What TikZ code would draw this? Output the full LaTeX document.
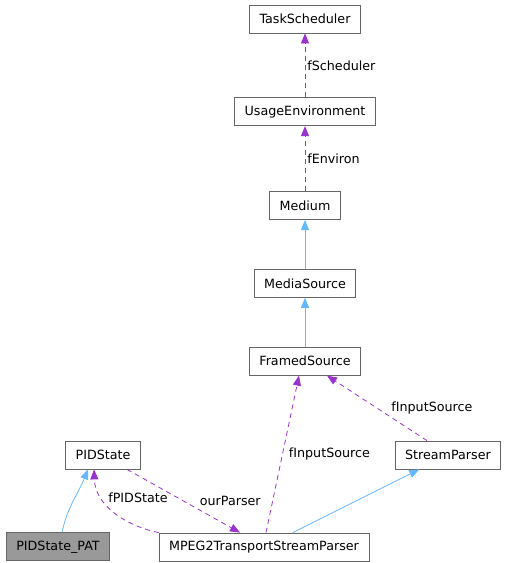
\documentclass[tikz,border=0pt]{standalone}
\usepackage{fontspec}
\setmainfont{DejaVu Sans}
\usepackage{xcolor}
\usetikzlibrary{arrows.meta,positioning}

\definecolor{inhblue}{HTML}{63B8FF}
\definecolor{usepurple}{HTML}{9A32CD}
\definecolor{boxgray}{HTML}{666666}

\begin{document}
\begin{tikzpicture}[
  x=1pt, y=1pt,
  cls/.style={draw=boxgray, fill=white, line width=0.8pt, minimum height=28pt, inner xsep=10pt, inner ysep=2pt, font=\fontsize{12.7}{15}\selectfont},
  inh/.style={draw=inhblue, line width=0.8pt, -{Triangle[length=10pt,width=8pt]}},
  usage/.style={draw=usepurple, line width=0.8pt, dash pattern=on 5pt off 4pt, -{Triangle[length=10pt,width=8pt]}},
  lbl/.style={font=\fontsize{12.7}{15}\selectfont, inner sep=2pt, text=black}
]
  \useasboundingbox (0,0) rectangle (508,-563);

  \node[cls] (ts) at (305,-19) {TaskScheduler};
  \node[cls, below=64pt of ts] (ue) {UsageEnvironment};
  \node[cls, below=65pt of ue] (med) {Medium};
  \node[cls, below=49pt of med] (ms) {MediaSource};
  \node[cls, below=49pt of ms] (fs) {FramedSource};
  \node[cls, below=65pt of fs, xshift=143pt] (sp) {StreamParser};
  \node[cls, below=65pt of fs, xshift=-202pt] (pid) {PIDState};
  \node[cls, below=157pt of fs, xshift=-41pt] (mpeg) {MPEG2TransportStreamParser};
  \node[cls, fill=black!40, below=63pt of pid, xshift=-45pt] (pat) {PIDState\_PAT};

  % inheritance
  \draw[inh] (ms) -- (med);
  \draw[inh] (fs) -- (ms);
  \draw[inh] (mpeg) -- (sp);
  \draw[inh] ([xshift=4pt]pat.north) to[out=78,in=-112] ([xshift=-15pt]pid.south);

  % usage
  \draw[usage] (ue) -- node[lbl, right] {fScheduler} (ts);
  \draw[usage] (med) -- node[lbl, right] {fEnviron} (ue);
  \draw[usage] ([xshift=2pt]mpeg.north) -- node[lbl, right, xshift=4pt] {fInputSource} ([xshift=-6pt]fs.south);
  \draw[usage] ([xshift=-21pt]sp.north) -- node[lbl, right, xshift=12pt] {fInputSource} ([xshift=22pt]fs.south);
  \draw[usage] ([xshift=24pt]pid.south) -- node[lbl, right, xshift=14pt] {ourParser} ([xshift=-24pt]mpeg.north);
  \draw[usage] (mpeg.north west) to[out=168,in=-88] node[lbl, pos=0.7, right, xshift=4pt] {fPIDState} ([xshift=-9pt]pid.south);
\end{tikzpicture}
\end{document}
